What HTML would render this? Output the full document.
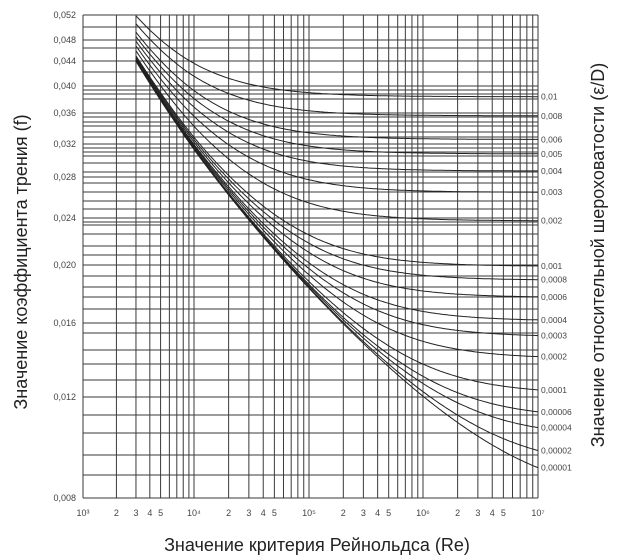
<!DOCTYPE html>
<html><head><meta charset="utf-8">
<style>
html,body{margin:0;padding:0;background:#fff;}
body{width:624px;height:556px;overflow:hidden;}
svg{display:block;font-family:"Liberation Sans","DejaVu Sans",sans-serif;}
</style></head>
<body>
<svg id="s" width="624" height="556" viewBox="0 0 624 556" xmlns="http://www.w3.org/2000/svg">
<g id="grid" stroke="#3a3a3a" stroke-width="1" fill="none"></g>
<g id="curves" stroke="#222" stroke-width="1" fill="none"></g>
<g id="lbl" font-size="9" fill="#444"></g>
<text x="0" y="0" font-size="18" fill="#222" text-anchor="middle" transform="translate(27,262) rotate(-90)">Значение коэффициента трения (f)</text>
<text x="0" y="0" font-size="18" fill="#222" text-anchor="middle" transform="translate(604,255) rotate(-90)">Значение относительной шероховатости (ε/D)</text>
<text x="317" y="551" font-size="18" fill="#222" text-anchor="middle">Значение критерия Рейнольдса (Re)</text>
</svg>
<script>
var NS="http://www.w3.org/2000/svg";
function el(p,t,a,txt){var e=document.createElementNS(NS,t);for(var k in a)e.setAttribute(k,a[k]);if(txt!==undefined)e.textContent=txt;p.appendChild(e);return e;}
var dec=[83,194,309,423,538];
function X(re){var l=Math.log10(re)-3;var i=Math.min(3,Math.floor(l));var fr=l-i;return dec[i]+(dec[i+1]-dec[i])*fr;}
function Y(f){return 498-594*Math.log10(f/0.008);}
var g=document.getElementById('grid'),c=document.getElementById('curves'),L=document.getElementById('lbl');
var T=15,B=498,Lx=83,R=538;
for(var d=0;d<4;d++){for(var m=1;m<=9;m++){var x=X(m*Math.pow(10,d+3));el(g,'line',{x1:x,y1:T,x2:x,y2:B});}}
el(g,'line',{x1:R,y1:T,x2:R,y2:B});
var hs=[15,27,40,48,61,72,86,90,94,99,113,117,122,126,132,137,144,148,152,156,163,172,177,183,192,201,209,218,222,225,234,246,255,265,276,287,297,309,323,333,350,364,380,397,415,433,455,475,498];
hs.forEach(function(y){el(g,'line',{x1:Lx,y1:y,x2:R,y2:y});});
[[0.052,15],[0.048,40],[0.044,61],[0.040,86],[0.036,113],[0.032,144],[0.028,177],[0.024,218],[0.020,265],[0.016,323],[0.012,397],[0.008,498]].forEach(function(p){
el(L,'text',{x:76,y:p[1]+3,'text-anchor':'end'},p[0].toFixed(3).replace('.',','));});
var sup=['10³','10⁴','10⁵','10⁶','10⁷'];
for(var d=0;d<5;d++){el(L,'text',{x:dec[d],y:516,'text-anchor':'middle'},sup[d]);
 if(d<4){[2,3,4,5].forEach(function(m){el(L,'text',{x:X(m*Math.pow(10,d+3)),y:516,'text-anchor':'middle'},String(m));});}}
var eps=[0.01,0.008,0.006,0.005,0.004,0.003,0.002,0.001,0.0008,0.0006,0.0004,0.0003,0.0002,0.0001,0.00006,0.00004,0.00002,0.00001];
var names=['0,01','0,008','0,006','0,005','0,004','0,003','0,002','0,001','0,0008','0,0006','0,0004','0,0003','0,0002','0,0001','0,00006','0,00004','0,00002','0,00001'];
function cole(e,re){var f=0.03;for(var i=0;i<60;i++){var s=-2*Math.log10(e/3.7+2.51/(re*Math.sqrt(f)));f=1/(s*s);}return f;}
eps.forEach(function(e,k){var d='';for(var i=0;i<=200;i++){var lr=Math.log10(3000)+(7-Math.log10(3000))*i/200;var re=Math.pow(10,lr);var f=cole(e,re);var y=Y(f);if(y<T)y=T;d+=(i?'L':'M')+X(re).toFixed(1)+' '+y.toFixed(1);}
el(c,'path',{d:d});
var yl=Y(cole(e,1e7));el(L,'text',{x:541,y:yl+3,'font-size':8.5},names[k]);});
</script>
</body></html>
